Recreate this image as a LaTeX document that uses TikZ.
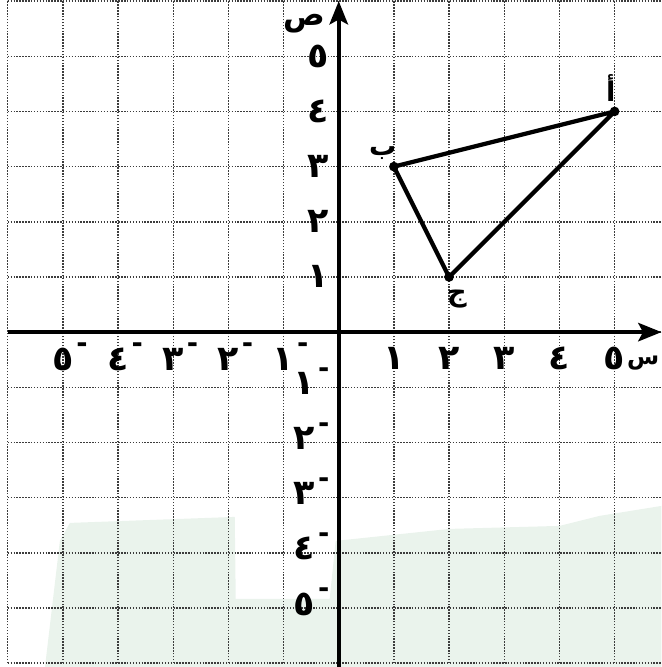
\documentclass[tikz,border=0pt]{standalone}
\usepackage{fontspec}
\newfontfamily\arabicfont[Script=Arabic]{DejaVu Sans}
\usetikzlibrary{arrows.meta}
\TeXXeTstate=1
\newcommand{\neglab}[1]{#1\rlap{\hspace{1.5pt}\raisebox{9pt}{\fontsize{14}{14}\selectfont -}}}
\definecolor{wmgreen}{RGB}{234,243,236}
\definecolor{gridgray}{RGB}{60,60,60}
\tikzset{
  gridline/.style={line width=0.75pt, draw=gridgray, dash pattern=on 0.75pt off 0.75pt},
  axisline/.style={line width=2pt, -{Stealth[length=12pt,width=9.5pt,inset=2.5pt]}},
  tri/.style={line width=2.2pt, line join=round},
  vertex/.style={circle, fill=black, inner sep=0pt, minimum size=5pt},
  num/.style={font=\arabicfont\bfseries\fontsize{18}{20}\selectfont, inner sep=0pt, anchor=base},
  ptlab/.style={font=\arabicfont\bfseries\fontsize{14}{16}\selectfont, inner sep=0pt},
  axlab/.style={font=\arabicfont\bfseries\fontsize{16}{18}\selectfont, inner sep=0pt, anchor=base},
}
\begin{document}
\begin{tikzpicture}
\useasboundingbox (-6.14,-6.07) rectangle (5.85,6.02);
% faint watermark
\begin{scope}[x=0.018116cm, y=-0.018116cm, shift={(-6.1413cm,5.9964cm)}]
  \fill[wmgreen] (45,667) -- (60,540) -- (70,522) -- (235,516) -- (236,598)
    -- (330,598) -- (336,540) -- (450,528) -- (560,525) -- (600,515)
    -- (662,505) -- (662,667) -- cycle;
\end{scope}
% grid
\foreach \i in {-6,...,5} \draw[gridline] (\i,-6) -- (\i,6.02);
\foreach \j in {-6,...,6} \draw[gridline] (-6,\j) -- (5.85,\j);
% axes
\coordinate (xl) at (-6,0);
\coordinate (xr) at (5.85,0);
\coordinate (yb) at (0,-6.07);
\coordinate (yt) at (0,6.0);
\draw[axisline] (xl) -- (xr);
\draw[axisline] (yb) -- (yt);
\node[axlab] (ylab) at (-0.62,5.55) {ص};
\node[axlab, font=\arabicfont\bfseries\fontsize{12}{14}\selectfont] (xlab) at (5.52,-0.58) {س};
% tick labels
\foreach \k/\d in {1/١,2/٢,3/٣,4/٤,5/٥} {
  \node[num] (xp\k) at (\k,-0.67) {\d};
  \node[num] (xn\k) at (-\k,-0.69) {\neglab{\d}};
  \node[num] (yp\k) at (-0.38,\k-0.2) {\d};
  \node[num] (yn\k) at (-0.62,-\k-0.13) {\neglab{\d}};
}
% triangle
\node[vertex] (A) at (5,4) {};
\node[vertex] (B) at (1,3) {};
\node[vertex] (C) at (2,1) {};
\draw[tri] (A.center) -- (B.center) -- (C.center) -- cycle;
\node[ptlab] (Alab) at (4.93,4.42) {أ};
\node[ptlab] (Blab) at (0.8,3.25) {ب};
\node[ptlab] (Clab) at (2.14,0.6) {ج};
\end{tikzpicture}
\end{document}
